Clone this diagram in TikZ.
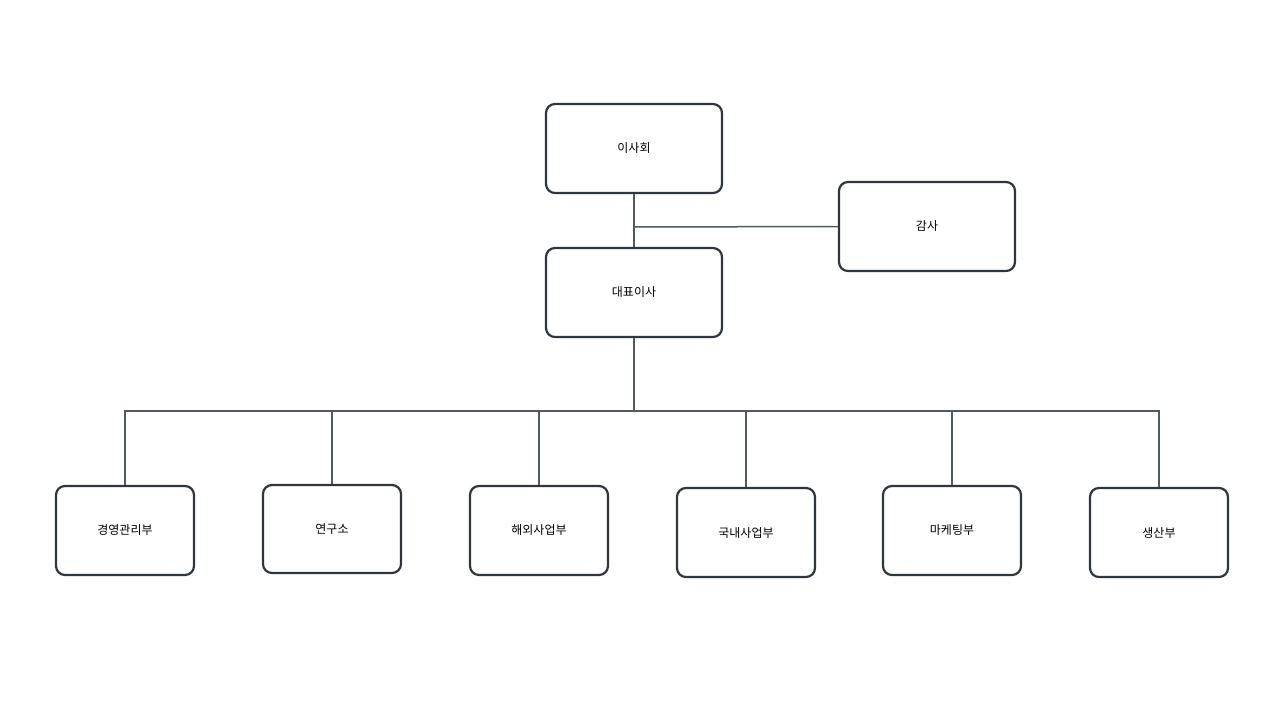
\documentclass[tikz,border=0pt]{standalone}
\usepackage{fontspec}
\setmainfont{Noto Sans CJK KR}
\definecolor{bd}{HTML}{2E3640}
\definecolor{ln}{HTML}{4F5A66}
\begin{document}
\begin{tikzpicture}[x=1pt,y=-1pt,
  bx/.style={draw=bd,line width=2.2pt,rounded corners=9pt,fill=white,font=\fontsize{12}{14}\selectfont,inner sep=0pt},
  big/.style={bx,minimum width=176pt,minimum height=89pt},
  sm/.style={bx,minimum width=138pt,minimum height=89pt},
  cn/.style={draw=ln,line width=1.5pt}]
\useasboundingbox (0,0) rectangle (1280,720);
\node[big] (a) at (634,148.5) {이사회};
\node[big] (g) at (927,226.5) {감사};
\node[big] (c) at (634,292.5) {대표이사};
\node[sm] (b1) at (125,530.5) {경영관리부};
\node[sm,minimum height=88pt] (b2) at (332,529) {연구소};
\node[sm] (b3) at (539,530.5) {해외사업부};
\node[sm] (b4) at (746,532.5) {국내사업부};
\node[sm] (b5) at (952,530.5) {마케팅부};
\node[sm] (b6) at (1159,532.5) {생산부};
\draw[cn,line width=2.2pt] (a) -- (c);
\coordinate (j) at (634,227);
\draw[cn] (j) -- (g.west);
\coordinate (h) at (c.south |- 0,411);
\draw[cn] (c.south) -- (h);
\foreach \i in {1,...,6}{\draw[cn] (b\i.north) |- (h);}
\end{tikzpicture}
\end{document}
